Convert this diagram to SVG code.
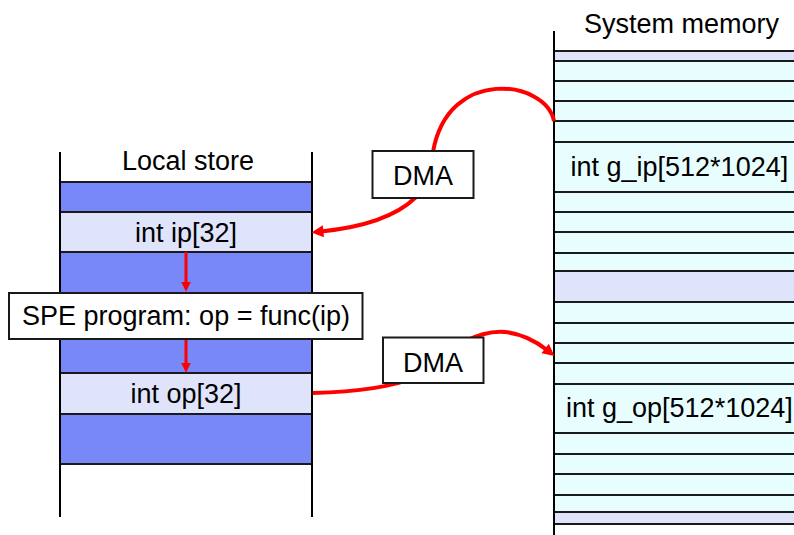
<svg xmlns="http://www.w3.org/2000/svg" width="794" height="535" viewBox="0 0 794 535">
  <style>
    text { font-family: "Liberation Sans", Arial, sans-serif; font-size: 27px; fill: #000; }
    .mid { text-anchor: middle; }
    .edge { stroke: #000; stroke-width: 2; fill: none; }
    .row { stroke: #1a1a1a; stroke-width: 2; }
    .blue { fill: #7888f8; }
    .lav { fill: #e0e4fb; }
    .cyan { fill: #e8fefe; }
    .box { fill: #fff; stroke: #1a1a1a; stroke-width: 2; }
    .dma { stroke: #ff0000; stroke-width: 4; fill: none; }
    .step { stroke: #ff0000; stroke-width: 3; fill: none; }
  </style>
  <defs>
    <marker id="bigHead" viewBox="0 0 10 10" refX="2" refY="5" markerWidth="3.4" markerHeight="3" orient="auto" markerUnits="strokeWidth">
      <path d="M0,0 L10,5 L0,10 Z" fill="#ff0000"/>
    </marker>
    <marker id="smallHead" viewBox="0 0 10 10" refX="2" refY="5" markerWidth="3.4" markerHeight="3.2" orient="auto" markerUnits="strokeWidth">
      <path d="M0,0 L10,5 L0,10 Z" fill="#ff0000"/>
    </marker>
  </defs>

  <rect width="794" height="535" fill="#fff"/>

  <!-- Local store column -->
  <g id="local-store">
    <text class="mid" x="188" y="169.5">Local store</text>
    <rect class="blue" x="60" y="182" width="252" height="30"/>
    <rect class="lav" x="60" y="212" width="252" height="40"/>
    <rect class="blue" x="60" y="252" width="252" height="121"/>
    <rect class="lav" x="60" y="373" width="252" height="41"/>
    <rect class="blue" x="60" y="414" width="252" height="50"/>
    <g class="row">
      <line x1="60" y1="182" x2="312" y2="182"/>
      <line x1="60" y1="212" x2="312" y2="212"/>
      <line x1="60" y1="252" x2="312" y2="252"/>
      <line x1="60" y1="373" x2="312" y2="373"/>
      <line x1="60" y1="414" x2="312" y2="414"/>
      <line x1="60" y1="464" x2="312" y2="464"/>
    </g>
    <line class="edge" x1="60" y1="152" x2="60" y2="517"/>
    <line class="edge" x1="312" y1="152" x2="312" y2="517"/>
    <text class="mid" x="186" y="241.5">int ip[32]</text>
    <text class="mid" x="186" y="403">int op[32]</text>
  </g>

  <!-- System memory column -->
  <g id="system-memory">
    <text x="584" y="32.5">System memory</text>
    <rect class="lav" x="554" y="51" width="242" height="10"/>
    <rect class="cyan" x="554" y="61" width="242" height="210"/>
    <rect class="lav" x="554" y="271" width="242" height="31"/>
    <rect class="cyan" x="554" y="302" width="242" height="210"/>
    <rect class="lav" x="554" y="512" width="242" height="12"/>
    <g class="row">
      <line x1="554" y1="51" x2="796" y2="51"/>
      <line x1="554" y1="61" x2="796" y2="61"/>
      <line x1="554" y1="81" x2="796" y2="81"/>
      <line x1="554" y1="101" x2="796" y2="101"/>
      <line x1="554" y1="121" x2="796" y2="121"/>
      <line x1="554" y1="142" x2="796" y2="142"/>
      <line x1="554" y1="192" x2="796" y2="192"/>
      <line x1="554" y1="212" x2="796" y2="212"/>
      <line x1="554" y1="232" x2="796" y2="232"/>
      <line x1="554" y1="253" x2="796" y2="253"/>
      <line x1="554" y1="271" x2="796" y2="271"/>
      <line x1="554" y1="302" x2="796" y2="302"/>
      <line x1="554" y1="323" x2="796" y2="323"/>
      <line x1="554" y1="343" x2="796" y2="343"/>
      <line x1="554" y1="363" x2="796" y2="363"/>
      <line x1="554" y1="384" x2="796" y2="384"/>
      <line x1="554" y1="433" x2="796" y2="433"/>
      <line x1="554" y1="454" x2="796" y2="454"/>
      <line x1="554" y1="474" x2="796" y2="474"/>
      <line x1="554" y1="495" x2="796" y2="495"/>
      <line x1="554" y1="512" x2="796" y2="512"/>
      <line x1="554" y1="524" x2="796" y2="524"/>
    </g>
    <line class="edge" x1="554" y1="31" x2="554" y2="535"/>
    <text x="570.5" y="175.5">int g_ip[512*1024]</text>
    <text x="566" y="417">int g_op[512*1024]</text>
  </g>

  <!-- Transfers and program flow -->
  <g id="connectors">
    <path class="dma" d="M554,121 C546,80 448,66 433,152 C430,172 425,188 415,198 C392,220 355,228 321,231.5" marker-end="url(#bigHead)"/>
    <path class="dma" d="M313,393 C360,392 395,386 420,376 C450,345 480,330 505,332 C525,334 538,343 547,350" marker-end="url(#bigHead)"/>
    <line class="step" x1="186" y1="252" x2="186" y2="284" marker-end="url(#smallHead)"/>
    <line class="step" x1="186" y1="339" x2="186" y2="365" marker-end="url(#smallHead)"/>
  </g>

  <g id="spe-program">
    <rect class="box" x="9" y="293" width="353.5" height="46"/>
    <text class="mid" x="186" y="324.5">SPE program: op = func(ip)</text>
  </g>

  <g id="dma-in">
    <rect class="box" x="372.5" y="151" width="101" height="47"/>
    <text class="mid" x="423" y="185">DMA</text>
  </g>

  <g id="dma-out">
    <rect class="box" x="383" y="337.5" width="100.5" height="45.5"/>
    <text class="mid" x="433" y="371.5">DMA</text>
  </g>
</svg>
